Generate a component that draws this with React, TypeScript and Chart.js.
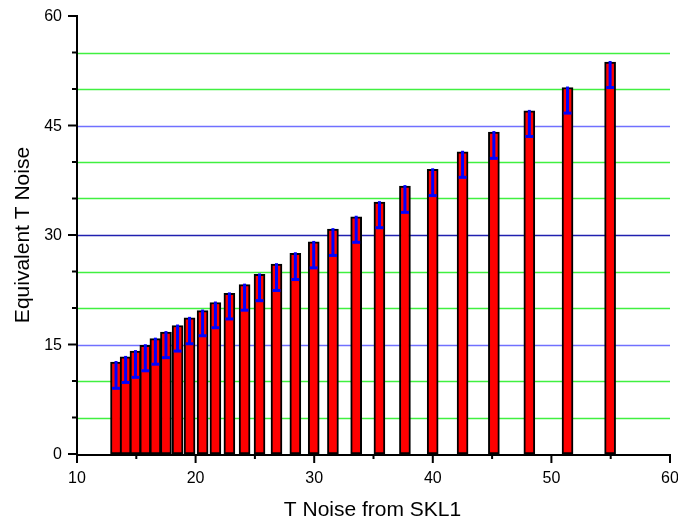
import React, { useEffect, useRef } from "react";
import { Chart, registerables } from "chart.js";

Chart.register(...registerables);

// Data
const xValues = [13.29, 14.1, 14.93, 15.76, 16.61, 17.5, 18.48, 19.49, 20.59, 21.67, 22.85, 24.13, 25.39, 26.82, 28.41, 29.96, 31.58, 33.54, 35.5, 37.65, 39.99, 42.51, 45.15, 48.14, 51.36, 54.95];
const yValues = [12.6, 13.3, 14.1, 14.9, 15.8, 16.7, 17.6, 18.65, 19.65, 20.75, 22.0, 23.2, 24.6, 26.0, 27.5, 29.05, 30.8, 32.5, 34.5, 36.7, 39.0, 41.4, 44.1, 47.0, 50.2, 53.7];
const errValues = [3.6, 3.5, 3.6, 3.5, 3.5, 3.5, 3.5, 3.55, 3.45, 3.45, 3.5, 3.5, 3.6, 3.6, 3.6, 3.55, 3.6, 3.5, 3.5, 3.6, 3.6, 3.5, 3.6, 3.5, 3.5, 3.5];
const xTickLabels = ["10", "20", "30", "40", "50", "60"];
const yTickLabels = ["0", "15", "30", "45", "60"];
const yGridValues = [5, 10, 15, 20, 25, 30, 35, 40, 45, 50, 55];
const xTitle = "T Noise from SKL1";
const yTitle = "Equivalent T Noise";

const FONT = '"Liberation Sans", Arial, sans-serif';

function gridColor(v: number): string {
  if (v === 30) return "#2020b0";
  if (v === 15 || v === 45) return "#7070ff";
  return "#40f040";
}

const overlay = {
  id: "overlay",
  beforeDatasetsDraw(chart: any) {
    const ctx = chart.ctx;
    const ys = chart.scales.y;
    const area = chart.chartArea;
    ctx.save();
    ctx.lineWidth = 1.5;
    yGridValues.forEach((v) => {
      const py = Math.round(ys.getPixelForValue(v)) + 0.5;
      ctx.strokeStyle = gridColor(v);
      ctx.beginPath();
      ctx.moveTo(area.left, py);
      ctx.lineTo(area.right, py);
      ctx.stroke();
    });
    ctx.restore();
  },
  afterDatasetsDraw(chart: any) {
    const ctx = chart.ctx;
    const xs = chart.scales.x;
    const ys = chart.scales.y;
    ctx.save();
    ctx.fillStyle = "#0000ff";
    for (let i = 0; i < xValues.length; i++) {
      const px = xs.getPixelForValue(xValues[i]);
      const top = ys.getPixelForValue(yValues[i]);
      const bot = ys.getPixelForValue(yValues[i] - errValues[i]);
      ctx.fillRect(px - 1.5, top - 1, 3, bot - top + 1);
      ctx.fillRect(px - 4, bot - 1.5, 8, 3);
    }
    ctx.restore();
  },
  afterDraw(chart: any) {
    const ctx = chart.ctx;
    const xs = chart.scales.x;
    const ys = chart.scales.y;
    const area = chart.chartArea;
    ctx.save();
    ctx.strokeStyle = "#000";
    ctx.lineWidth = 2;
    ctx.beginPath();
    ctx.moveTo(area.left, area.top - 1);
    ctx.lineTo(area.left, area.bottom + 1);
    ctx.lineTo(area.right, area.bottom + 1);
    ctx.stroke();
    // y ticks
    for (let v = 0; v <= 60; v += 5) {
      const py = ys.getPixelForValue(v);
      const len = v % 15 === 0 ? 9 : 5;
      ctx.beginPath();
      ctx.moveTo(area.left, py);
      ctx.lineTo(area.left - len, py);
      ctx.stroke();
    }
    // x ticks
    for (let v = 10; v <= 60; v += 5) {
      const px = xs.getPixelForValue(v);
      const len = v % 10 === 0 ? 9 : 5;
      ctx.beginPath();
      ctx.moveTo(px, area.bottom);
      ctx.lineTo(px, area.bottom + len);
      ctx.stroke();
    }
    ctx.fillStyle = "#000";
    ctx.font = "16px " + FONT;
    ctx.textAlign = "right";
    ctx.textBaseline = "middle";
    yTickLabels.forEach((t) => {
      const py = ys.getPixelForValue(Number(t));
      ctx.fillText(t, area.left - 15, py + 1);
    });
    ctx.textAlign = "center";
    ctx.textBaseline = "alphabetic";
    xTickLabels.forEach((t) => {
      const px = xs.getPixelForValue(Number(t));
      ctx.fillText(t, px, area.bottom + 29);
    });
    ctx.font = "21px " + FONT;
    ctx.fillText(xTitle, (area.left + area.right) / 2 - 1, 516);
    ctx.translate(29, (area.top + area.bottom) / 2);
    ctx.rotate(-Math.PI / 2);
    ctx.fillText(yTitle, 0, 0);
    ctx.restore();
  },
};

export default function App() {
  const ref = useRef<HTMLCanvasElement | null>(null);
  useEffect(() => {
    document.body.style.margin = "0";
    const canvas = ref.current;
    if (!canvas) return;
    const chart = new Chart(canvas, {
      type: "bar",
      data: {
        datasets: [
          {
            data: xValues.map((x, i) => ({ x, y: yValues[i] })),
            backgroundColor: "#ff0000",
            borderColor: "#000000",
            borderWidth: 2,
            borderSkipped: false,
            barThickness: 11,
          } as any,
        ],
      },
      options: {
        animation: false,
        responsive: false,
        devicePixelRatio: 1,
        layout: { padding: { left: 0, right: 8, top: 16, bottom: 0 } },
        plugins: { legend: { display: false }, tooltip: { enabled: false }, title: { display: false } },
        scales: {
          x: {
            type: "linear",
            min: 10,
            max: 60,
            offset: false,
            grid: { display: false, offset: false },
            border: { display: false },
            ticks: { display: false, stepSize: 10 },
            afterFit: (s: any) => {
              s.height = 69;
              s.paddingLeft = 0;
              s.paddingRight = 0;
            },
          },
          y: {
            type: "linear",
            min: 0,
            max: 60,
            border: { display: false },
            grid: { display: false, drawTicks: false },
            ticks: { display: false, stepSize: 5, autoSkip: false },
            afterFit: (s: any) => {
              s.width = 77;
              s.paddingTop = 0;
              s.paddingBottom = 0;
            },
          },
        },
      } as any,
      plugins: [overlay],
    });
    return () => chart.destroy();
  }, []);
  return <canvas ref={ref} width={678} height={523} style={{ display: "block" }} />;
}
